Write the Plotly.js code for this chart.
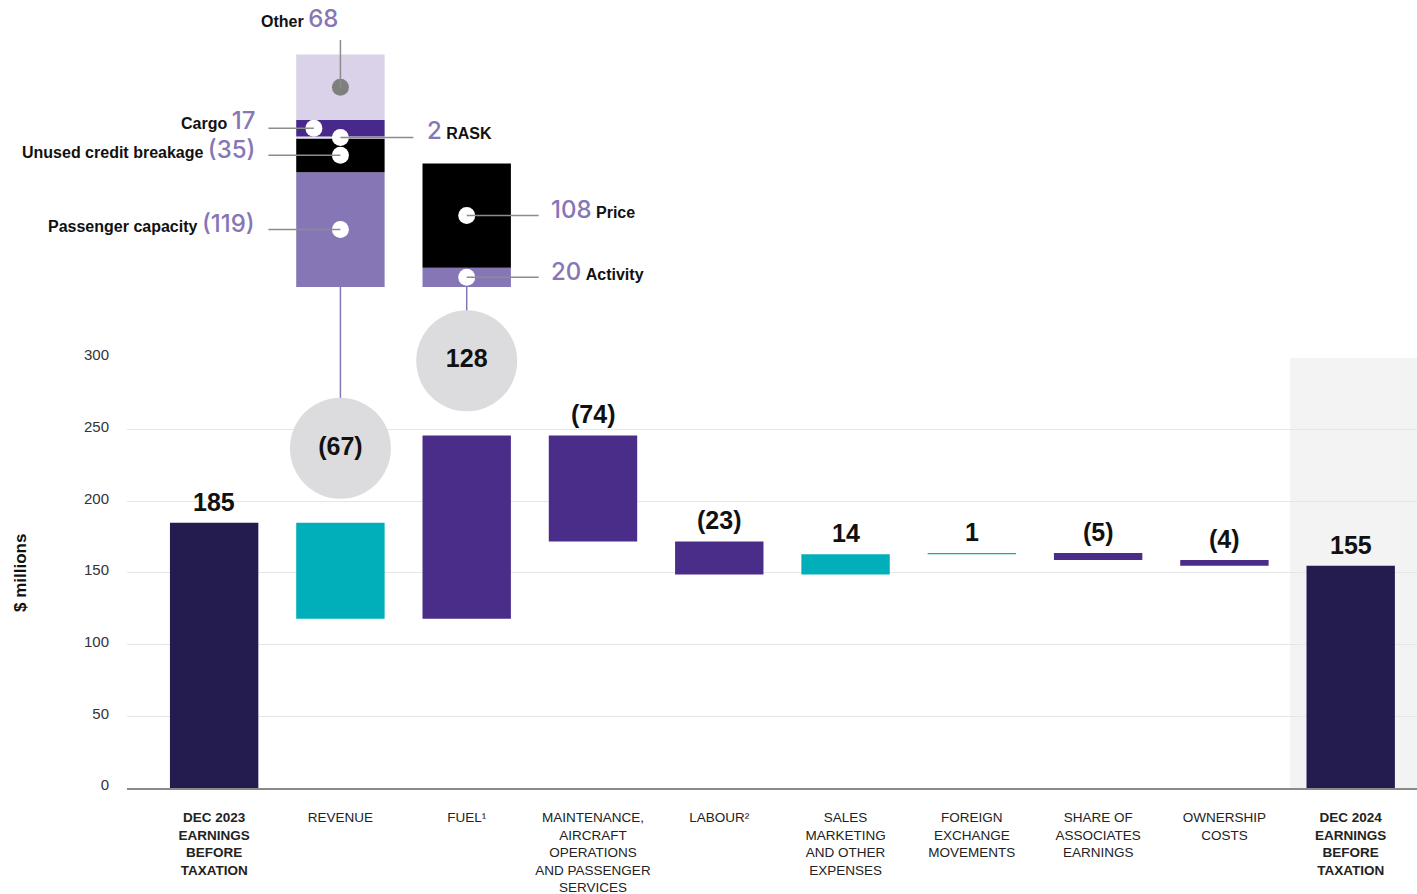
<!DOCTYPE html>
<html><head><meta charset="utf-8">
<script src="https://cdn.plot.ly/plotly-3.0.1.min.js"></script>
<style>html,body{margin:0;padding:0;background:#fff}</style>
</head><body><div id="chart" style="width:1417px;height:894px"></div>
<script>
// ---------------- DATA ----------------
const categories = ['Dec 2023 earnings before taxation','Revenue','Fuel','Maintenance, aircraft operations and passenger services','Labour','Sales marketing and other expenses','Foreign exchange movements','Share of associates earnings','Ownership costs','Dec 2024 earnings before taxation'];
const tickLabels = [
  '<b>DEC 2023</b><br><b>EARNINGS</b><br><b>BEFORE</b><br><b>TAXATION</b>',
  'REVENUE',
  'FUEL¹',
  'MAINTENANCE,<br>AIRCRAFT<br>OPERATIONS<br>AND PASSENGER<br>SERVICES',
  'LABOUR²',
  'SALES<br>MARKETING<br>AND OTHER<br>EXPENSES',
  'FOREIGN<br>EXCHANGE<br>MOVEMENTS',
  'SHARE OF<br>ASSOCIATES<br>EARNINGS',
  'OWNERSHIP<br>COSTS',
  '<b>DEC 2024</b><br><b>EARNINGS</b><br><b>BEFORE</b><br><b>TAXATION</b>'
];
const changes = [185, -67, 128, -74, -23, 14, 1, -5, -4, 155];
const isTotal = [true, false, false, false, false, false, false, false, false, true];
const revenueParts = ['Passenger capacity', 'Unused credit breakage', 'RASK', 'Cargo', 'Other'];
const revenueValues = [-119, -35, 2, 17, 68];
const fuelParts = ['Activity', 'Price'];
const fuelValues = [20, 108];

// ---------------- STYLE ----------------
const FONT = 'Liberation Sans, Arial, sans-serif';
const NAVY = '#241c4e', TEAL = '#00afb9', PURPLE = '#4a2d89', LILAC = '#8676b6', PALE = '#d9d2e8';
const barColors = [NAVY, TEAL, PURPLE, PURPLE, PURPLE, TEAL, TEAL, PURPLE, PURPLE, NAVY];
const revenueColors = [LILAC, '#000000', '#e6e1f0', '#48288a', PALE];
const fuelColors = [LILAC, '#000000'];
const BAR_W = 0.7;
const Y_DOMAIN = [0, 0.5457];
const Y2_DOMAIN = [0.6358, 1];
const Y2_RANGE = [0, 297.4];
const CIRCLE_OFFSET = 52;

const fmt = v => v < 0 ? '(' + (-v) + ')' : String(v);

// waterfall geometry
const xIdx = categories.map((_, i) => i);
const bases = [], heights = [], tops = [];
let running = 0;
changes.forEach((v, i) => {
  if (isTotal[i]) { bases.push(0); heights.push(v); tops.push(v); running = v; }
  else {
    const a = running, b = running + v;
    bases.push(Math.min(a, b)); heights.push(Math.abs(v)); tops.push(Math.max(a, b)); running = b;
  }
});

const traces = [];
traces.push({
  type: 'bar', x: xIdx, y: heights, base: bases, width: BAR_W,
  marker: {color: barColors, line: {width: 0}}, hoverinfo: 'skip', showlegend: false
});

// breakdown stacks (index 1 = revenue, index 2 = fuel)
const breakdowns = [
  {idx: 1, names: revenueParts, values: revenueValues, colors: revenueColors},
  {idx: 2, names: fuelParts, values: fuelValues, colors: fuelColors}
];
const shapes = [], annotations = [];
const LINE = {color: '#8c8c8c', width: 1.5};

// shaded final column
shapes.push({type: 'rect', xref: 'x', yref: 'y', x0: 8.52, x1: 9.6, y0: 0, y1: 300,
  fillcolor: '#f3f3f3', line: {width: 0}, layer: 'below'});

const numSpan = v => '<span style="color:' + LILAC + ';font-size:24px;font-family:Inter,Liberation Sans,sans-serif;font-weight:500">' + fmt(v) + '</span>';

breakdowns.forEach(bd => {
  const b = [], h = [], mids = [];
  let acc = 0;
  bd.values.forEach(v => { b.push(acc); h.push(Math.abs(v)); mids.push(acc + Math.abs(v) / 2); acc += Math.abs(v); });
  const stackTop = acc;
  traces.push({type: 'bar', x: bd.values.map(() => bd.idx), y: h, base: b, width: BAR_W,
    yaxis: 'y2', marker: {color: bd.colors, line: {width: 0}}, hoverinfo: 'skip', showlegend: false});
  bd.mids = mids; bd.stackTop = stackTop;

  // connector from stack to circle
  const cy = tops[bd.idx] + CIRCLE_OFFSET;
  shapes.push({type: 'line', xref: 'x', yref: 'paper', x0: bd.idx, x1: bd.idx,
    y0: Y2_DOMAIN[0], y1: Y_DOMAIN[0] + cy / 300 * (Y_DOMAIN[1] - Y_DOMAIN[0]),
    line: {color: LILAC, width: 1.5}, layer: 'below'});
});

// revenue labels
(function () {
  const bd = breakdowns[0], X = bd.idx;
  const dotX = [], dotY = [], dotC = [];
  bd.names.forEach((name, k) => {
    const y = bd.mids[k], v = bd.values[k];
    if (name === 'Other') {
      dotX.push(X); dotY.push(y); dotC.push('#7f7f7f');
      shapes.push({type: 'line', xref: 'x', yref: 'y2', x0: X, x1: X, y0: y, y1: bd.stackTop + 15, line: LINE});
      annotations.push({xref: 'x', yref: 'y2', x: X, y: bd.stackTop + 37, xanchor: 'right', yanchor: 'middle',
        text: '<b>' + name + '</b> ' + numSpan(v), showarrow: false, font: {family: FONT, size: 16, color: '#111'}});
    } else if (name === 'RASK') {
      dotX.push(X); dotY.push(y); dotC.push('#ffffff');
      shapes.push({type: 'line', xref: 'x', yref: 'y2', x0: X, x1: X + 0.578, y0: y, y1: y, line: LINE});
      annotations.push({xref: 'x', yref: 'y2', x: X + 0.673, y: y, yshift: 7, xanchor: 'left', yanchor: 'middle',
        text: numSpan(v) + ' <b>' + name + '</b>', showarrow: false, font: {family: FONT, size: 16, color: '#111'}});
    } else {
      const dx = name === 'Cargo' ? X - 0.21 : X;
      dotX.push(dx); dotY.push(y); dotC.push('#ffffff');
      shapes.push({type: 'line', xref: 'x', yref: 'y2', x0: X - 0.57, x1: dx, y0: y, y1: y, line: LINE});
      annotations.push({xref: 'x', yref: 'y2', x: X - 0.665, y: y, yshift: name === 'Cargo' ? 8 : 6,
        xanchor: 'right', yanchor: 'middle', borderpad: 0,
        text: '<b>' + name + '</b> ' + numSpan(v), showarrow: false, font: {family: FONT, size: 16, color: '#111'}});
    }
  });
  traces.push({type: 'scatter', mode: 'markers', x: dotX, y: dotY, yaxis: 'y2',
    marker: {size: 17, color: dotC, line: {width: 0}}, hoverinfo: 'skip', showlegend: false, cliponaxis: false});
})();

// fuel labels
(function () {
  const bd = breakdowns[1], X = bd.idx;
  const dotX = [], dotY = [];
  bd.names.forEach((name, k) => {
    const y = bd.mids[k], v = bd.values[k];
    dotX.push(X); dotY.push(y);
    shapes.push({type: 'line', xref: 'x', yref: 'y2', x0: X, x1: X + 0.57, y0: y, y1: y, line: LINE});
    annotations.push({xref: 'x', yref: 'y2', x: X + 0.649, y: y, yshift: 6, xanchor: 'left', yanchor: 'middle',
      text: numSpan(v) + ' <b>' + name + '</b>', showarrow: false, font: {family: FONT, size: 16, color: '#111'}});
  });
  traces.push({type: 'scatter', mode: 'markers', x: dotX, y: dotY, yaxis: 'y2',
    marker: {size: 17, color: '#ffffff', line: {width: 0}}, hoverinfo: 'skip', showlegend: false, cliponaxis: false});
})();

// circles with totals for the breakdowns
traces.push({type: 'scatter', mode: 'markers+text',
  x: breakdowns.map(bd => bd.idx), y: breakdowns.map(bd => tops[bd.idx] + CIRCLE_OFFSET),
  text: breakdowns.map(bd => '<b>' + fmt(changes[bd.idx]) + '</b>'), textposition: 'middle center',
  textfont: {family: FONT, size: 25, color: '#111'},
  marker: {size: 101, color: '#dcdcde', line: {width: 0}}, hoverinfo: 'skip', showlegend: false, cliponaxis: false});

// value labels over bars
changes.forEach((v, i) => {
  if (breakdowns.some(bd => bd.idx === i)) return;
  annotations.push({xref: 'x', yref: 'y', x: i, y: tops[i], yanchor: 'middle', yshift: 21,
    text: '<b>' + fmt(v) + '</b>', showarrow: false, font: {family: FONT, size: 25, color: '#111'}});
});

// y-axis title
annotations.push({xref: 'paper', yref: 'paper', x: -0.083, y: 0.2728, xanchor: 'center', yanchor: 'middle',
  textangle: -90, text: '<b>$ millions</b>', showarrow: false, font: {family: FONT, size: 17, color: '#111'}});

const layout = {
  width: 1417, height: 894,
  margin: {l: 127, r: 0, t: 0, b: 106},
  paper_bgcolor: '#ffffff', plot_bgcolor: 'rgba(0,0,0,0)',
  barmode: 'overlay', showlegend: false,
  font: {family: FONT, color: '#222'},
  xaxis: {range: [-0.69, 9.525], tickvals: xIdx, ticktext: tickLabels, ticks: '',
    showgrid: false, zeroline: false, showline: true, linecolor: '#8a8a8a', linewidth: 2,
    tickfont: {family: FONT, size: 13.5, color: '#222'}, ticklabelstandoff: 16, fixedrange: true},
  yaxis: {domain: Y_DOMAIN, range: [0, 300], tickvals: [0, 50, 100, 150, 200, 250, 300],
    showgrid: true, gridcolor: '#e6e6e6', gridwidth: 1, zeroline: false, showline: false, ticks: '',
    tickfont: {family: FONT, size: 15, color: '#333'}, ticklabelstandoff: 17, ticklabelshift: -3, fixedrange: true},
  yaxis2: {domain: Y2_DOMAIN, range: Y2_RANGE, anchor: 'x', visible: false, fixedrange: true},
  shapes: shapes, annotations: annotations
};

Plotly.newPlot('chart', traces, layout, {displayModeBar: false, staticPlot: true});
</script>
</body></html>
